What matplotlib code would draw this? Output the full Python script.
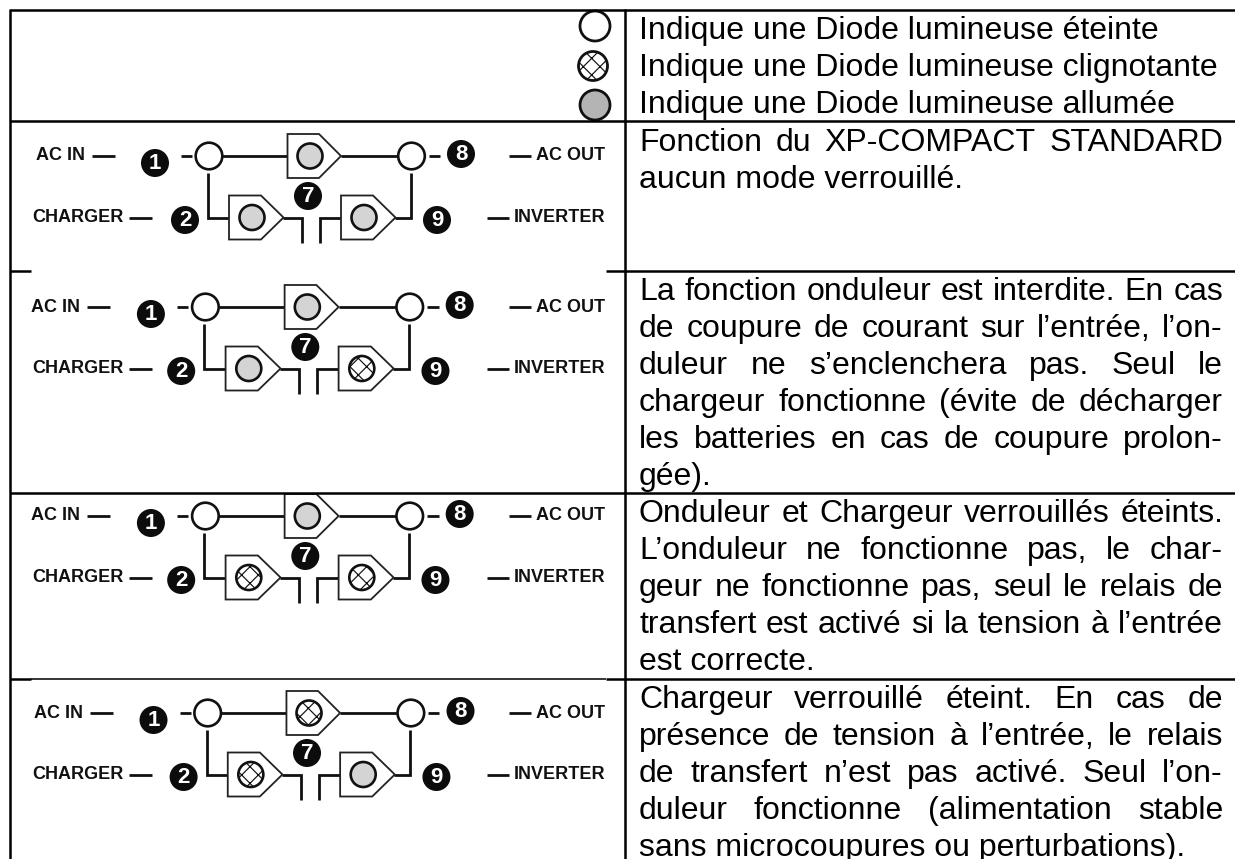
import matplotlib
matplotlib.use("Agg")
import matplotlib.pyplot as plt
from matplotlib.patches import Circle, Polygon

plt.rcParams['font.family'] = ['Liberation Sans', 'DejaVu Sans']
plt.rcParams['hatch.linewidth'] = 0.85

# ---- content -------------------------------------------------------------
legend_states = ['off', 'blink', 'on']
legend_lines = ["Indique une Diode lumineuse éteinte",
                "Indique une Diode lumineuse clignotante",
                "Indique une Diode lumineuse allumée"]
# state of (top relay, charger, inverter) for each table row
top_states = ['on', 'on', 'on', 'blink']
charger_states = ['on', 'on', 'blink', 'blink']
inverter_states = ['on', 'blink', 'blink', 'on']

paragraphs = [
    [("Fonction du XP-COMPACT STANDARD", True), ("aucun mode verrouillé.", False)],
    [("La fonction onduleur est interdite. En cas", True),
     ("de coupure de courant sur l’entrée, l’on-", True),
     ("duleur ne s’enclenchera pas. Seul le", True),
     ("chargeur fonctionne (évite de décharger", True),
     ("les batteries en cas de coupure prolon-", True),
     ("gée).", False)],
    [("Onduleur et Chargeur verrouillés éteints.", True),
     ("L’onduleur ne fonctionne pas, le char-", True),
     ("geur ne fonctionne pas, seul le relais de", True),
     ("transfert est activé si la tension à l’entrée", True),
     ("est correcte.", False)],
    [("Chargeur verrouillé éteint. En cas de", True),
     ("présence de tension à l’entrée, le relais", True),
     ("de transfert n’est pas activé. Seul l’on-", True),
     ("duleur fonctionne (alimentation stable", True),
     ("sans microcoupures ou perturbations).", False)],
]
para_first_baseline = [151, 300, 522, 708]
legend_first_baseline = 39
line_pitch = 37

# ---- layout (pixel space) -------------------------------------------------
W, H = 1235, 859
row_dy = [0, 151, 360, 557]
row_skew = [0, 5.5, 5.5, 2.0]
FILL = {'on': '#d4d4d4', 'off': 'white', 'blink': 'white'}
INK = '#111111'

fig = plt.figure(figsize=(W / 100, H / 100), dpi=100, facecolor='white')
ax = fig.add_axes([0, 0, 1, 1])
ax.set_xlim(0, W)
ax.set_ylim(H, 0)
ax.axis('off')


def lamp(x, y, r, state, lw=1.9, fill=None, z=4):
    face = fill if fill else FILL[state]
    if state == 'blink':
        ax.add_patch(Circle((x, y), r, facecolor='white', edgecolor=INK, lw=lw,
                            hatch='xx', zorder=z))
    else:
        ax.add_patch(Circle((x, y), r, facecolor=face, edgecolor=INK, lw=lw, zorder=z))


def seg(xs, ys, lw=2.0):
    ax.plot(xs, ys, color=INK, lw=lw, solid_capstyle='butt',
            solid_joinstyle='miter', zorder=2)


def pentagon(x0, xs, x1, yc, state, cx):
    ax.add_patch(Polygon([(x0, yc - 22), (xs, yc - 22), (x1, yc), (xs, yc + 22), (x0, yc + 22)],
                         closed=True, facecolor='white', edgecolor='#222222', lw=1.3, zorder=3))
    lamp(cx, yc, 12.5, state)


def badge(x, y, s):
    ax.add_patch(Circle((x, y), 14, facecolor='#0c0c0c', edgecolor='none', zorder=4))
    ax.text(x, y + 0.5, s, color='white', fontsize=16, fontweight='bold',
            ha='center', va='center', zorder=5)


def label(x, y, s, ha='left'):
    ax.text(x, y, s, color=INK, fontsize=13, fontweight='bold', ha=ha, va='center', zorder=5)


def diagram(i):
    d, k = row_dy[i], row_skew[i]
    X = lambda x: x - k * (605 - x) / 605
    y1, y2 = 156 + d, 217.5 + d
    # wires
    seg([X(181), X(192)], [y1, y1])
    seg([X(222), X(288)], [y1, y1])
    seg([X(341), X(398)], [y1, y1])
    seg([X(429), X(440)], [y1, y1])
    seg([X(208), X(208), X(229)], [y1 + 17, y2, y2])
    seg([X(283), X(302), X(302)], [y2, y2, y2 + 25])
    seg([X(320), X(320), X(341)], [y2 + 25, y2, y2])
    seg([X(395), X(411), X(411)], [y2, y2, y1 + 17])
    # relays
    lamp(X(209), y1, 13.3, 'off')
    lamp(X(411.5), y1, 13.3, 'off')
    pentagon(X(287.5), X(319), X(341), y1, top_states[i], X(310))
    pentagon(X(229), X(261), X(283.5), y2, charger_states[i], X(252))
    pentagon(X(341), X(373), X(395.5), y2, inverter_states[i], X(364))
    # badges
    badge(X(155), 163 + d, '1')
    badge(X(185), 220 + d, '2')
    badge(X(308), 196 + d, '7')
    badge(X(461), 154 + d, '8')
    badge(X(437), 220 + d, '9')
    # labels and their dashes
    label(X(36), y1, 'AC IN')
    seg([X(91.5), X(114.5)], [y1, y1])
    label(32, y2, 'CHARGER')
    seg([129, 152], [y2, y2])
    label(605, y1, 'AC OUT', ha='right')
    seg([509, 531], [y1, y1])
    label(605, y2, 'INVERTER', ha='right')
    seg([487, 509], [y2, y2])


for i in range(4):
    diagram(i)

# ---- legend lamps ----------------------------------------------------------
legend_r = [(595, 26, 15), (593, 66, 14.5), (595, 105, 15)]
for (x, y, r), st in zip(legend_r, legend_states):
    lamp(x, y, r, st, lw=2.0, fill='#b4b4b4' if st == 'on' else None, z=4)

# ---- table grid ------------------------------------------------------------
grid = dict(color='black', solid_capstyle='butt', zorder=6)
ax.plot([10, W], [9.5, 9.5], lw=1.8, **grid)
ax.plot([10, W], [120.5, 120.5], lw=1.8, **grid)
ax.plot([10, 31], [271, 271], lw=1.8, **grid)
ax.plot([605.5, W], [271, 271], lw=1.8, **grid)
ax.plot([10, W], [492.5, 492.5], lw=1.8, **grid)
ax.plot([10, 31], [678.5, 678.5], lw=1.8, **grid)
ax.plot([31, 605.5], [678.5, 678.5], lw=1.1, **grid)
ax.plot([605.5, W], [678.5, 678.5], lw=1.8, **grid)
ax.plot([10, 10], [9, H], lw=1.8, **grid)
ax.plot([624.5, 624.5], [9, H], lw=1.8, **grid)

# ---- right column text ------------------------------------------------------
FS = 23
LEFT, RIGHT = 639, 1223
renderer = fig.canvas.get_renderer()


def text_line(s, y, justify):
    if not justify:
        ax.text(LEFT, y, s, fontsize=FS, color='black', ha='left', va='baseline', zorder=7)
        return
    words = s.split(' ')
    arts = [ax.text(LEFT, y, w, fontsize=FS, color='black', ha='left', va='baseline', zorder=7)
            for w in words]
    widths = [a.get_window_extent(renderer).width for a in arts]
    gap = (RIGHT - LEFT - sum(widths)) / (len(words) - 1)
    x = LEFT
    for a, w in zip(arts, widths):
        a.set_x(x)
        x += w + gap


for n, s in enumerate(legend_lines):
    text_line(s, legend_first_baseline + n * line_pitch, False)
for first, para in zip(para_first_baseline, paragraphs):
    for n, (s, just) in enumerate(para):
        text_line(s, first + n * line_pitch, just)

fig.savefig('out.png', dpi=100, facecolor='white')
